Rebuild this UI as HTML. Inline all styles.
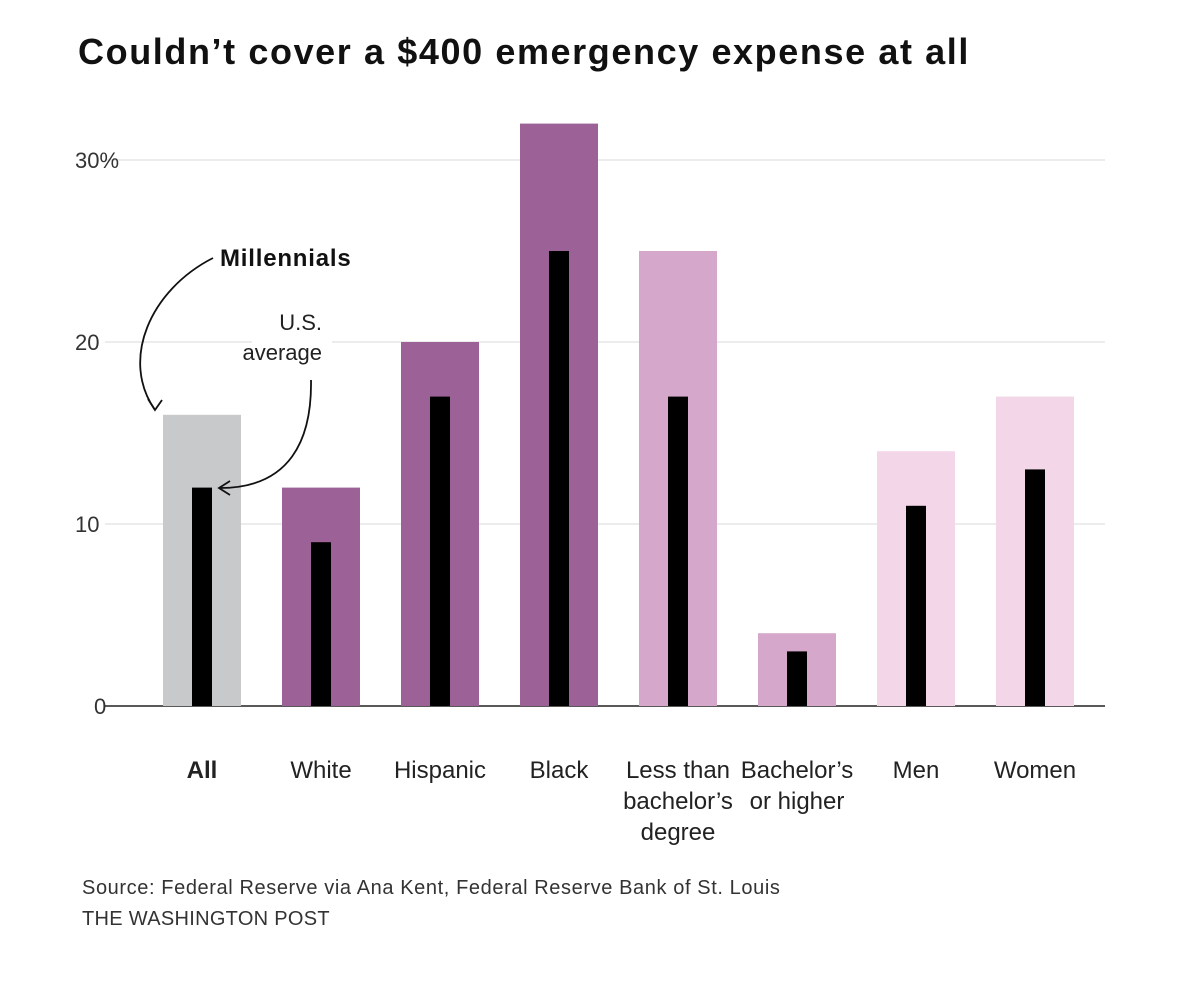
<!DOCTYPE html>
<html><head><meta charset="utf-8">
<style>
body{margin:0;background:#fff;}
svg{display:block;font-family:"Liberation Sans",sans-serif;}
</style></head>
<body>
<svg id="chart" width="1200" height="991" viewBox="0 0 1200 991">
<text x="78" y="64" font-size="36" font-weight="bold" letter-spacing="1.6" fill="#111">Couldn’t cover a $400 emergency expense at all</text>
<g id="grid"></g>
<g id="bars"></g>
<g id="labels"></g>
<rect x="252" y="325" width="80" height="40" fill="#fff"/>
<text x="322" y="330" font-size="22" text-anchor="end" fill="#222"><tspan x="322">U.S.</tspan><tspan x="322" dy="30">average</tspan></text>
<text x="220" y="266" font-size="24" font-weight="bold" letter-spacing="0.8" fill="#111">Millennials</text>
<path d="M213,258 C150,290 120,360 155,410" fill="none" stroke="#111" stroke-width="1.8"/>
<path d="M148,399 L155,410 L162,400" fill="none" stroke="#111" stroke-width="1.8"/>
<path d="M311,380 C312,440 290,488 220,488" fill="none" stroke="#111" stroke-width="1.8"/>
<path d="M230,481 L219,488 L230,495" fill="none" stroke="#111" stroke-width="1.8"/>
<text x="82" y="894" font-size="20" letter-spacing="0.6" fill="#333">Source: Federal Reserve via Ana Kent, Federal Reserve Bank of St. Louis</text>
<text x="82" y="925" font-size="20" letter-spacing="0.3" fill="#333">THE WASHINGTON POST</text>
</svg>
<script>
const categories=[["All"],["White"],["Hispanic"],["Black"],["Less than","bachelor’s","degree"],["Bachelor’s","or higher"],["Men"],["Women"]];
const millennialValues=[16,12,20,32,25,4,14,17];
const usAverageValues=[12,9,17,25,17,3,11,13];
const barColors=["#c8c9cb","#9c6197","#9c6197","#9c6197","#d5a8cb","#d5a8cb","#f3d6e7","#f3d6e7"];
const tickValues=[0,10,20,30];
const tickLabels=["0","10","20","30%"];
const NS="http://www.w3.org/2000/svg";
const y0=706,pxPer=18.2,x0=163,step=119,bw=78,iw=20;
const yScale=v=>y0-v*pxPer;
const xScale=i=>x0+i*step;
function mk(tag,attrs,parent){const e=document.createElementNS(NS,tag);for(const k in attrs)e.setAttribute(k,attrs[k]);parent.appendChild(e);return e;}
const grid=document.getElementById('grid'),bars=document.getElementById('bars'),labels=document.getElementById('labels');
tickValues.forEach((t,i)=>{
  if(t!==0){const l=mk('line',{x1:105,x2:1105,y1:yScale(t),y2:yScale(t),stroke:'#e6e6e6','stroke-width':1.5},grid);
  
  }
  const tx=mk('text',{x:t===0?94:75,y:yScale(t)+8,'font-size':22,fill:'#333'},grid);
  tx.textContent=tickLabels[i];
  
  
});
millennialValues.forEach((v,i)=>{
  const x=xScale(i);
  const r=mk('rect',{x:x,y:yScale(v),width:bw,height:v*pxPer,fill:barColors[i]},bars);
  
  
  const a=usAverageValues[i];
  const r2=mk('rect',{x:x+bw/2-iw/2,y:yScale(a),width:iw,height:a*pxPer,fill:'#000'},bars);
  
  
  const t=mk('text',{x:x+bw/2,y:778,'font-size':24,'text-anchor':'middle',fill:'#222','font-weight':i===0?'bold':'normal'},labels);
  
  
  categories[i].forEach((ln,j)=>{const s=mk('tspan',{x:x+bw/2,dy:j===0?0:31},t);s.textContent=ln;});
});
const base=mk('line',{x1:105,x2:1105,y1:y0,y2:y0,stroke:'#222','stroke-width':1.5},grid);


</script>
</body></html>
